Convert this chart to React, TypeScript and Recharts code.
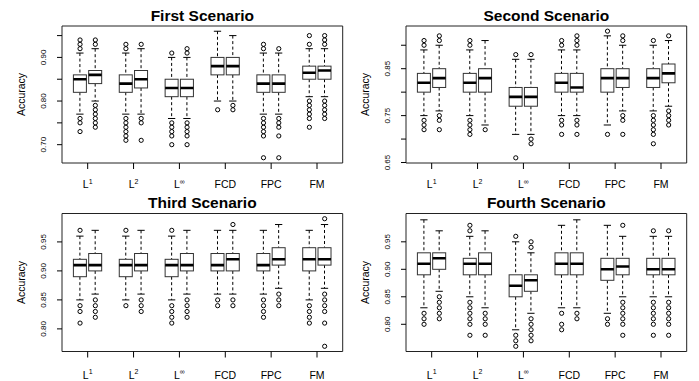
import React from "react";
import { ComposedChart, Bar, Scatter, XAxis, YAxis, ReferenceArea } from "recharts";

const boxPositions = [1, 2, 4, 5, 7, 8, 10, 11, 13, 14, 16, 17];
const groupTicks = [1.5, 4.5, 7.5, 10.5, 13.5, 16.5];
const groupBase = ["L", "L", "L", "FCD", "FPC", "FM"];
const groupSup = ["1", "2", "∞", "", "", ""];
const scenarioTitles = ["First Scenario", "Second Scenario", "Third Scenario", "Fourth Scenario"];
const yLabel = "Accuracy";

// each row: [lower whisker, Q1, median, Q3, upper whisker]
const firstStats = [
  [0.77, 0.82, 0.85, 0.86, 0.91],
  [0.8, 0.84, 0.86, 0.87, 0.92],
  [0.77, 0.82, 0.84, 0.86, 0.91],
  [0.77, 0.83, 0.85, 0.87, 0.92],
  [0.76, 0.81, 0.83, 0.85, 0.9],
  [0.76, 0.81, 0.83, 0.85, 0.9],
  [0.8, 0.86, 0.88, 0.9, 0.96],
  [0.8, 0.86, 0.88, 0.9, 0.95],
  [0.77, 0.82, 0.84, 0.86, 0.91],
  [0.77, 0.82, 0.84, 0.86, 0.91],
  [0.81, 0.85, 0.865, 0.88, 0.92],
  [0.81, 0.85, 0.87, 0.88, 0.92],
];
const firstOutliers = [
  [0.92, 0.93, 0.94, 0.76, 0.75, 0.73],
  [0.93, 0.94, 0.79, 0.78, 0.77, 0.76, 0.75, 0.74],
  [0.92, 0.93, 0.76, 0.75, 0.74, 0.73, 0.72, 0.71],
  [0.93, 0.76, 0.75, 0.71],
  [0.91, 0.75, 0.74, 0.73, 0.72, 0.7],
  [0.91, 0.92, 0.75, 0.74, 0.73, 0.72, 0.7],
  [0.78],
  [0.79, 0.78],
  [0.92, 0.93, 0.76, 0.75, 0.74, 0.73, 0.72, 0.67],
  [0.92, 0.76, 0.75, 0.74, 0.72, 0.67],
  [0.93, 0.95, 0.8, 0.79, 0.78, 0.77, 0.76, 0.74],
  [0.93, 0.94, 0.95, 0.8, 0.79, 0.78, 0.77, 0.76],
];

const secondStats = [
  [0.75, 0.8, 0.82, 0.84, 0.89],
  [0.76, 0.81, 0.83, 0.85, 0.9],
  [0.75, 0.8, 0.82, 0.84, 0.89],
  [0.73, 0.8, 0.83, 0.85, 0.91],
  [0.71, 0.77, 0.79, 0.81, 0.87],
  [0.71, 0.77, 0.79, 0.81, 0.87],
  [0.75, 0.8, 0.82, 0.84, 0.89],
  [0.75, 0.8, 0.81, 0.84, 0.89],
  [0.73, 0.8, 0.83, 0.85, 0.92],
  [0.76, 0.81, 0.83, 0.85, 0.9],
  [0.76, 0.81, 0.83, 0.85, 0.9],
  [0.77, 0.82, 0.84, 0.86, 0.91],
];
const secondOutliers = [
  [0.9, 0.91, 0.74, 0.73, 0.72],
  [0.91, 0.92, 0.75, 0.74, 0.72],
  [0.9, 0.91, 0.74, 0.73, 0.72, 0.71],
  [0.72],
  [0.88, 0.66],
  [0.88, 0.7, 0.69],
  [0.9, 0.91, 0.74, 0.73, 0.71],
  [0.9, 0.91, 0.92, 0.74, 0.73, 0.71],
  [0.93, 0.71],
  [0.91, 0.92, 0.75, 0.74, 0.71],
  [0.91, 0.75, 0.74, 0.73, 0.72, 0.71, 0.69],
  [0.92, 0.76, 0.75, 0.74, 0.73],
];

const thirdStats = [
  [0.85, 0.89, 0.91, 0.92, 0.96],
  [0.86, 0.9, 0.91, 0.93, 0.97],
  [0.85, 0.89, 0.91, 0.92, 0.96],
  [0.86, 0.9, 0.91, 0.93, 0.97],
  [0.85, 0.89, 0.91, 0.92, 0.96],
  [0.86, 0.9, 0.91, 0.93, 0.97],
  [0.86, 0.9, 0.91, 0.93, 0.97],
  [0.86, 0.9, 0.92, 0.93, 0.97],
  [0.86, 0.9, 0.91, 0.93, 0.97],
  [0.87, 0.91, 0.92, 0.94, 0.98],
  [0.85, 0.9, 0.92, 0.94, 0.97],
  [0.87, 0.91, 0.92, 0.94, 0.98],
];
const thirdOutliers = [
  [0.97, 0.84, 0.83, 0.81],
  [0.85, 0.84, 0.83, 0.82],
  [0.97, 0.84],
  [0.85, 0.84, 0.83],
  [0.97, 0.84, 0.83, 0.82, 0.81],
  [0.85, 0.84, 0.83, 0.82],
  [0.85, 0.84],
  [0.98, 0.85, 0.84],
  [0.85, 0.84, 0.83, 0.82],
  [0.86, 0.85, 0.84],
  [0.84, 0.83, 0.82, 0.81],
  [0.99, 0.86, 0.85, 0.84, 0.83, 0.81, 0.77],
];

const fourthStats = [
  [0.83, 0.89, 0.91, 0.93, 0.99],
  [0.86, 0.9, 0.92, 0.93, 0.97],
  [0.85, 0.89, 0.91, 0.92, 0.96],
  [0.83, 0.89, 0.91, 0.93, 0.97],
  [0.79, 0.85, 0.87, 0.89, 0.95],
  [0.82, 0.86, 0.88, 0.89, 0.93],
  [0.83, 0.89, 0.91, 0.93, 0.98],
  [0.83, 0.89, 0.91, 0.93, 0.99],
  [0.82, 0.88, 0.9, 0.92, 0.98],
  [0.85, 0.89, 0.905, 0.92, 0.96],
  [0.85, 0.89, 0.9, 0.92, 0.96],
  [0.85, 0.89, 0.9, 0.92, 0.96],
];
const fourthOutliers = [
  [0.82, 0.81, 0.8],
  [0.85, 0.84, 0.83, 0.82, 0.81],
  [0.97, 0.98, 0.84, 0.83, 0.82, 0.81, 0.8, 0.78],
  [0.82, 0.81, 0.8, 0.78],
  [0.96, 0.78, 0.77, 0.76],
  [0.94, 0.95, 0.81, 0.8, 0.79, 0.78, 0.77],
  [0.82, 0.8, 0.79],
  [0.82, 0.81],
  [0.81, 0.8],
  [0.98, 0.84, 0.83, 0.82, 0.81, 0.8, 0.78],
  [0.97, 0.84, 0.83, 0.82, 0.81, 0.8, 0.78],
  [0.97, 0.84, 0.83, 0.82, 0.81, 0.8, 0.78],
];

const firstTicks = [0.7, 0.75, 0.8, 0.85, 0.9, 0.95];
const firstLabeled = [0.7, 0.8, 0.9];
const secondTicks = [0.65, 0.7, 0.75, 0.8, 0.85, 0.9];
const secondLabeled = [0.65, 0.75, 0.85];
const thirdTicks = [0.8, 0.85, 0.9, 0.95];
const fourthTicks = [0.8, 0.85, 0.9, 0.95];

const FONT = "'Liberation Sans', Arial, Helvetica, sans-serif";
const X_DOMAIN: [number, number] = [-0.18, 18.18];

const BoxShape = (props: any) => {
  const { x, y, width, height } = props;
  const p = props.payload || props;
  const top = Math.min(y, y + height);
  const bot = Math.max(y, y + height);
  const k = (bot - top) / (p.q3 - p.q1);
  const py = (v: number) => top + (p.q3 - v) * k;
  const cx = x + width / 2;
  const cap = width * 0.28;
  return (
    <g>
      <line x1={cx} x2={cx} y1={py(p.hi)} y2={top} stroke="#000" strokeWidth={1} strokeDasharray="3 2.5" />
      <line x1={cx} x2={cx} y1={bot} y2={py(p.lo)} stroke="#000" strokeWidth={1} strokeDasharray="3 2.5" />
      <line x1={cx - cap} x2={cx + cap} y1={py(p.hi)} y2={py(p.hi)} stroke="#000" strokeWidth={1} />
      <line x1={cx - cap} x2={cx + cap} y1={py(p.lo)} y2={py(p.lo)} stroke="#000" strokeWidth={1} />
      <rect x={x} y={top} width={width} height={bot - top} fill="#fff" stroke="#333" strokeWidth={1} />
      <line x1={x} x2={x + width} y1={py(p.med)} y2={py(p.med)} stroke="#000" strokeWidth={2.6} />
    </g>
  );
};

const OutlierShape = (props: any) => (
  <circle cx={props.cx} cy={props.cy} r={2.1} fill="none" stroke="#000" strokeWidth={1} />
);

const makeXTick = (dy: number) => (props: any) => {
  const { x, y, payload } = props;
  const i = groupTicks.indexOf(payload.value);
  if (i < 0) return null;
  const sup = groupSup[i];
  return (
    <text x={x} y={y + dy} textAnchor="middle" fontFamily={FONT} fontSize={10.5} fill="#000">
      <tspan>{groupBase[i]}</tspan>
      {sup ? (
        <tspan fontSize={7} dy={-4.5}>
          {sup}
        </tspan>
      ) : null}
    </text>
  );
};

const makeYTick = (labeled: number[]) => (props: any) => {
  const { x, y, payload } = props;
  if (!labeled.some((v) => Math.abs(v - payload.value) < 1e-9)) return null;
  const bx = x - 9;
  return (
    <text
      x={bx}
      y={y}
      transform={`rotate(-90, ${bx}, ${y})`}
      textAnchor="middle"
      fontFamily={FONT}
      fontSize={8}
      fill="#000"
    >
      {payload.value.toFixed(2)}
    </text>
  );
};

type PanelProps = {
  stats: number[][];
  outliers: number[][];
  yDomain: [number, number];
  yTicks: number[];
  labeled: number[];
  left: number;
  top: number;
  width: number;
  height: number;
  axisW: number;
  rightM: number;
  topM: number;
  axisH: number;
  xLabelDy: number;
};

function Panel(p: PanelProps) {
  const boxes = p.stats.map((s, i) => ({
    pos: boxPositions[i],
    range: [s[1], s[3]],
    lo: s[0],
    q1: s[1],
    med: s[2],
    q3: s[3],
    hi: s[4],
  }));
  const outs = p.outliers.flatMap((arr, i) => arr.map((v) => ({ pos: boxPositions[i], v })));
  return (
    <div style={{ position: "absolute", left: p.left, top: p.top }}>
      <ComposedChart
        width={p.width}
        height={p.height}
        data={boxes}
        margin={{ top: p.topM, right: p.rightM, bottom: 0, left: 0 }}
      >
        <XAxis
          dataKey="pos"
          type="number"
          domain={X_DOMAIN}
          ticks={groupTicks}
          interval={0}
          allowDataOverflow
          axisLine={false}
          tickLine={{ stroke: "#000" }}
          tickSize={6}
          height={p.axisH}
          tick={makeXTick(p.xLabelDy)}
        />
        <YAxis
          type="number"
          domain={p.yDomain}
          ticks={p.yTicks}
          interval={0}
          allowDataOverflow
          axisLine={false}
          tickLine={{ stroke: "#000" }}
          tickSize={5}
          width={p.axisW}
          tick={makeYTick(p.labeled)}
        />
        <ReferenceArea
          x1={X_DOMAIN[0]}
          x2={X_DOMAIN[1]}
          y1={p.yDomain[0]}
          y2={p.yDomain[1]}
          fill="none"
          fillOpacity={0}
          stroke="#222"
          strokeWidth={1}
          ifOverflow="visible"
        />
        <Bar dataKey="range" barSize={13} shape={BoxShape} isAnimationActive={false} />
        <Scatter data={outs} dataKey="v" shape={OutlierShape} isAnimationActive={false} />
      </ComposedChart>
    </div>
  );
}

const plots = [
  { l: 62, r: 342.7, t: 26, b: 163 },
  { l: 406, r: 686.7, t: 26, b: 163 },
  { l: 62, r: 342.7, t: 213.5, b: 351.5 },
  { l: 406, r: 686.7, t: 213.5, b: 351.5 },
];

export default function App() {
  return (
    <div style={{ position: "absolute", left: 0, top: 0, width: 699, height: 381, background: "#fff", fontFamily: FONT }}>
      <Panel
        stats={firstStats}
        outliers={firstOutliers}
        yDomain={[0.658, 0.972]}
        yTicks={firstTicks}
        labeled={firstLabeled}
        left={0}
        top={0}
        width={349}
        height={190}
        axisW={62}
        rightM={6.3}
        topM={26}
        axisH={27}
        xLabelDy={17}
      />
      <Panel
        stats={secondStats}
        outliers={secondOutliers}
        yDomain={[0.649, 0.941]}
        yTicks={secondTicks}
        labeled={secondLabeled}
        left={349}
        top={0}
        width={350}
        height={190}
        axisW={57}
        rightM={12.3}
        topM={26}
        axisH={27}
        xLabelDy={17}
      />
      <Panel
        stats={thirdStats}
        outliers={thirdOutliers}
        yDomain={[0.761, 0.999]}
        yTicks={thirdTicks}
        labeled={thirdTicks}
        left={0}
        top={190}
        width={349}
        height={191}
        axisW={62}
        rightM={6.3}
        topM={23.5}
        axisH={29.5}
        xLabelDy={19}
      />
      <Panel
        stats={fourthStats}
        outliers={fourthOutliers}
        yDomain={[0.7505, 1.0015]}
        yTicks={fourthTicks}
        labeled={fourthTicks}
        left={349}
        top={190}
        width={350}
        height={191}
        axisW={57}
        rightM={12.3}
        topM={23.5}
        axisH={29.5}
        xLabelDy={19}
      />
      <svg width={699} height={381} style={{ position: "absolute", left: 0, top: 0, pointerEvents: "none" }}>
        {plots.map((pl, i) => {
          const cy = (pl.t + pl.b) / 2;
          const lx = pl.l - 37;
          return (
            <g key={i}>
              <text
                x={(pl.l + pl.r) / 2}
                y={pl.t - 5.5}
                textAnchor="middle"
                fontFamily={FONT}
                fontWeight="bold"
                fontSize={15.5}
                fill="#000"
              >
                {scenarioTitles[i]}
              </text>
              <text
                x={lx}
                y={cy}
                transform={`rotate(-90, ${lx}, ${cy})`}
                textAnchor="middle"
                fontFamily={FONT}
                fontSize={10.5}
                fill="#000"
              >
                {yLabel}
              </text>
            </g>
          );
        })}
      </svg>
    </div>
  );
}
